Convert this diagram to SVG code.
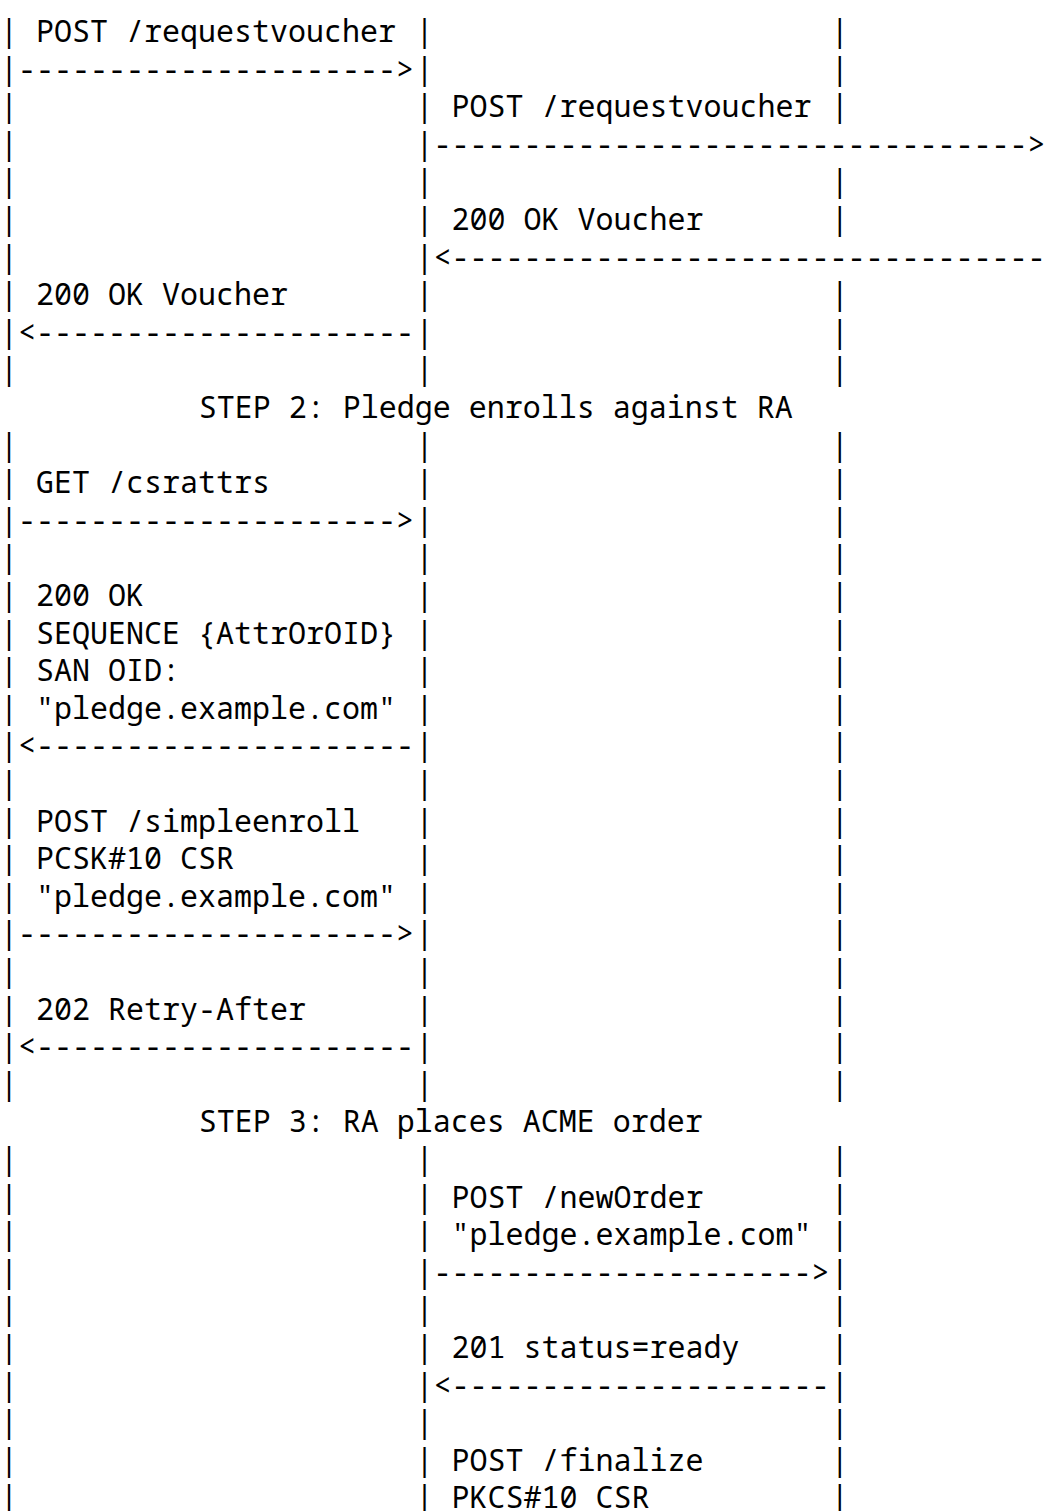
<svg xmlns="http://www.w3.org/2000/svg" width="1046" height="1511" viewBox="0 0 1046 1511">
<style>
text{font-family:"Noto Sans Mono","DejaVu Sans Mono","Liberation Mono",monospace;font-size:30px;fill:#000;white-space:pre}
</style>
<rect width="1046" height="1511" fill="#fff"/>
<g id="lifelines">
<text id="pledge-line" x="0"><tspan x="0" y="42">|</tspan><tspan x="0" y="79.6">|</tspan><tspan x="0" y="117.2">|</tspan><tspan x="0" y="154.8">|</tspan><tspan x="0" y="192.4">|</tspan><tspan x="0" y="230">|</tspan><tspan x="0" y="267.6">|</tspan><tspan x="0" y="305.2">|</tspan><tspan x="0" y="342.8">|</tspan><tspan x="0" y="380.4">|</tspan><tspan x="0" y="455.6">|</tspan><tspan x="0" y="493.2">|</tspan><tspan x="0" y="530.8">|</tspan><tspan x="0" y="568.4">|</tspan><tspan x="0" y="606">|</tspan><tspan x="0" y="643.6">|</tspan><tspan x="0" y="681.2">|</tspan><tspan x="0" y="718.8">|</tspan><tspan x="0" y="756.4">|</tspan><tspan x="0" y="794">|</tspan><tspan x="0" y="831.6">|</tspan><tspan x="0" y="869.2">|</tspan><tspan x="0" y="906.8">|</tspan><tspan x="0" y="944.4">|</tspan><tspan x="0" y="982">|</tspan><tspan x="0" y="1019.6">|</tspan><tspan x="0" y="1057.2">|</tspan><tspan x="0" y="1094.8">|</tspan><tspan x="0" y="1170">|</tspan><tspan x="0" y="1207.6">|</tspan><tspan x="0" y="1245.2">|</tspan><tspan x="0" y="1282.8">|</tspan><tspan x="0" y="1320.4">|</tspan><tspan x="0" y="1358">|</tspan><tspan x="0" y="1395.6">|</tspan><tspan x="0" y="1433.2">|</tspan><tspan x="0" y="1470.8">|</tspan><tspan x="0" y="1508.4">|</tspan></text>
<text id="ra-line" x="415.38"><tspan x="415.38" y="42">|</tspan><tspan x="415.38" y="79.6">|</tspan><tspan x="415.38" y="117.2">|</tspan><tspan x="415.38" y="154.8">|</tspan><tspan x="415.38" y="192.4">|</tspan><tspan x="415.38" y="230">|</tspan><tspan x="415.38" y="267.6">|</tspan><tspan x="415.38" y="305.2">|</tspan><tspan x="415.38" y="342.8">|</tspan><tspan x="415.38" y="380.4">|</tspan><tspan x="415.38" y="455.6">|</tspan><tspan x="415.38" y="493.2">|</tspan><tspan x="415.38" y="530.8">|</tspan><tspan x="415.38" y="568.4">|</tspan><tspan x="415.38" y="606">|</tspan><tspan x="415.38" y="643.6">|</tspan><tspan x="415.38" y="681.2">|</tspan><tspan x="415.38" y="718.8">|</tspan><tspan x="415.38" y="756.4">|</tspan><tspan x="415.38" y="794">|</tspan><tspan x="415.38" y="831.6">|</tspan><tspan x="415.38" y="869.2">|</tspan><tspan x="415.38" y="906.8">|</tspan><tspan x="415.38" y="944.4">|</tspan><tspan x="415.38" y="982">|</tspan><tspan x="415.38" y="1019.6">|</tspan><tspan x="415.38" y="1057.2">|</tspan><tspan x="415.38" y="1094.8">|</tspan><tspan x="415.38" y="1170">|</tspan><tspan x="415.38" y="1207.6">|</tspan><tspan x="415.38" y="1245.2">|</tspan><tspan x="415.38" y="1282.8">|</tspan><tspan x="415.38" y="1320.4">|</tspan><tspan x="415.38" y="1358">|</tspan><tspan x="415.38" y="1395.6">|</tspan><tspan x="415.38" y="1433.2">|</tspan><tspan x="415.38" y="1470.8">|</tspan><tspan x="415.38" y="1508.4">|</tspan></text>
<text id="acme-line" x="830.76"><tspan x="830.76" y="42">|</tspan><tspan x="830.76" y="79.6">|</tspan><tspan x="830.76" y="117.2">|</tspan><tspan x="830.76" y="192.4">|</tspan><tspan x="830.76" y="230">|</tspan><tspan x="830.76" y="305.2">|</tspan><tspan x="830.76" y="342.8">|</tspan><tspan x="830.76" y="380.4">|</tspan><tspan x="830.76" y="455.6">|</tspan><tspan x="830.76" y="493.2">|</tspan><tspan x="830.76" y="530.8">|</tspan><tspan x="830.76" y="568.4">|</tspan><tspan x="830.76" y="606">|</tspan><tspan x="830.76" y="643.6">|</tspan><tspan x="830.76" y="681.2">|</tspan><tspan x="830.76" y="718.8">|</tspan><tspan x="830.76" y="756.4">|</tspan><tspan x="830.76" y="794">|</tspan><tspan x="830.76" y="831.6">|</tspan><tspan x="830.76" y="869.2">|</tspan><tspan x="830.76" y="906.8">|</tspan><tspan x="830.76" y="944.4">|</tspan><tspan x="830.76" y="982">|</tspan><tspan x="830.76" y="1019.6">|</tspan><tspan x="830.76" y="1057.2">|</tspan><tspan x="830.76" y="1094.8">|</tspan><tspan x="830.76" y="1170">|</tspan><tspan x="830.76" y="1207.6">|</tspan><tspan x="830.76" y="1245.2">|</tspan><tspan x="830.76" y="1282.8">|</tspan><tspan x="830.76" y="1320.4">|</tspan><tspan x="830.76" y="1358">|</tspan><tspan x="830.76" y="1395.6">|</tspan><tspan x="830.76" y="1433.2">|</tspan><tspan x="830.76" y="1470.8">|</tspan><tspan x="830.76" y="1508.4">|</tspan></text>
</g>
<g id="steps">
<text id="step2" x="198.66" y="418">STEP 2: Pledge enrolls against RA</text>
<text id="step3" x="198.66" y="1132.4">STEP 3: RA places ACME order</text>
</g>
<g id="connectors">
<g id="msg-pledge-ra-voucher"><text x="36.12" y="42">POST /requestvoucher</text><text x="18.06" y="79.6">---------------------&gt;</text></g>
<g id="msg-ra-masa-voucher"><text x="451.5" y="117.2">POST /requestvoucher</text><text x="433.44" y="154.8">---------------------------------&gt;</text></g>
<g id="msg-masa-ra-ok"><text x="451.5" y="230">200 OK Voucher</text><text x="433.44" y="267.6">&lt;---------------------------------</text></g>
<g id="msg-ra-pledge-ok"><text x="36.12" y="305.2">200 OK Voucher</text><text x="18.06" y="342.8">&lt;---------------------</text></g>
<g id="msg-csrattrs"><text x="36.12" y="493.2">GET /csrattrs</text><text x="18.06" y="530.8">---------------------&gt;</text></g>
<g id="msg-csrattrs-ok"><text x="36.12" y="606">200 OK</text><text x="36.12" y="643.6">SEQUENCE {AttrOrOID}</text><text x="36.12" y="681.2">SAN OID:</text><text x="36.12" y="718.8">"pledge.example.com"</text><text x="18.06" y="756.4">&lt;---------------------</text></g>
<g id="msg-simpleenroll"><text x="36.12" y="831.6">POST /simpleenroll</text><text x="36.12" y="869.2">PCSK#10 CSR</text><text x="36.12" y="906.8">"pledge.example.com"</text><text x="18.06" y="944.4">---------------------&gt;</text></g>
<g id="msg-retry"><text x="36.12" y="1019.6">202 Retry-After</text><text x="18.06" y="1057.2">&lt;---------------------</text></g>
<g id="msg-neworder"><text x="451.5" y="1207.6">POST /newOrder</text><text x="451.5" y="1245.2">"pledge.example.com"</text><text x="433.44" y="1282.8">---------------------&gt;</text></g>
<g id="msg-ready"><text x="451.5" y="1358">201 status=ready</text><text x="433.44" y="1395.6">&lt;---------------------</text></g>
<g id="msg-finalize"><text x="451.5" y="1470.8">POST /finalize</text><text x="451.5" y="1508.4">PKCS#10 CSR</text></g>
</g>
</svg>
